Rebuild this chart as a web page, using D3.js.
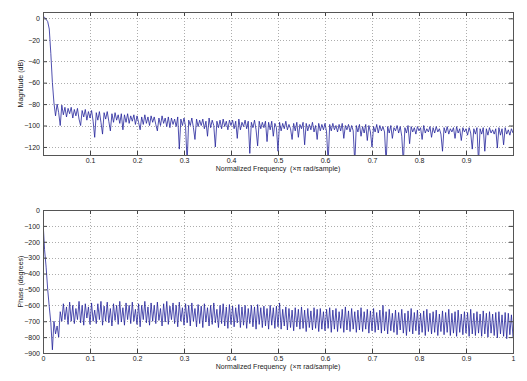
<!DOCTYPE html>
<html>
<head>
<meta charset="utf-8">
<script src="https://cdn.jsdelivr.net/npm/d3@7"></script>
<style>
body { margin: 0; background: #fff; }
svg text { font-family: "Liberation Sans", Arial, sans-serif; font-size: 7px; fill: #222; white-space: pre; }
.grid line { stroke: #8a8a8a; stroke-width: 0.7; stroke-dasharray: 1,2; }
.box { fill: none; stroke: #555; stroke-width: 1; }
.tick line { stroke: #444; }
.trace { fill: none; stroke: #23239a; stroke-width: 0.8; }
</style>
</head>
<body>
<div id="chart"></div>
<script>
// magnitude response in dB, sampled evenly on [0, 1] (x pi rad/sample)
var magnitude = [
  2, 1, -1, -3, -10, -33, -60, -79, -91, -80,
  -88, -100, -81, -90, -83, -92, -84, -89, -83, -93,
  -85, -91, -84, -94, -100, -86, -92, -85, -95, -87,
  -93, -86, -96, -111, -88, -95, -87, -97, -108, -88,
  -94, -87, -96, -105, -89, -97, -88, -95, -90, -98,
  -89, -104, -90, -97, -89, -98, -91, -96, -90, -99,
  -91, -97, -104, -92, -99, -90, -98, -92, -100, -91,
  -97, -92, -99, -105, -93, -100, -91, -98, -93, -101,
  -92, -102, -93, -99, -94, -101, -92, -122, -94, -100,
  -93, -101, -135, -95, -100, -93, -102, -113, -94, -101,
  -95, -100, -94, -103, -96, -110, -93, -102, -95, -100,
  -120, -96, -102, -95, -103, -94, -101, -96, -104, -95,
  -100, -95, -103, -96, -112, -94, -104, -97, -101, -95,
  -103, -96, -126, -97, -102, -95, -104, -119, -96, -103,
  -97, -102, -96, -115, -97, -104, -96, -110, -98, -102,
  -124, -97, -105, -98, -103, -96, -104, -99, -103, -113,
  -98, -105, -97, -111, -99, -103, -97, -118, -98, -105,
  -99, -104, -97, -106, -100, -113, -98, -105, -99, -104,
  -98, -106, -135, -99, -105, -98, -104, -100, -106, -99,
  -105, -98, -112, -100, -104, -99, -106, -100, -105, -135,
  -100, -106, -99, -110, -101, -107, -99, -114, -100, -106,
  -120, -101, -106, -99, -107, -100, -105, -101, -106, -135,
  -101, -107, -100, -112, -102, -105, -100, -107, -101, -110,
  -135, -102, -107, -100, -117, -101, -106, -102, -108, -101,
  -105, -102, -113, -100, -107, -103, -106, -101, -111, -102,
  -107, -101, -106, -103, -108, -124, -102, -107, -101, -108,
  -103, -106, -102, -112, -101, -107, -103, -114, -102, -106,
  -103, -109, -102, -107, -122, -103, -108, -102, -135, -103,
  -108, -102, -124, -103, -109, -102, -107, -104, -108, -103,
  -121, -102, -109, -103, -118, -102, -108, -104, -109, -103,
  -107
];

// phase response in degrees, same frequency grid
var phase = [
  -70, -250, -360, -500, -610, -710, -880, -700, -780, -730,
  -800, -640, -700, -590, -690, -610, -720, -580, -700, -600,
  -715, -620, -690, -575, -710, -600, -725, -590, -680, -610,
  -720, -585, -700, -630, -715, -590, -690, -575, -725, -605,
  -700, -580, -710, -620, -730, -590, -695, -600, -720, -575,
  -705, -615, -725, -585, -690, -600, -715, -580, -700, -625,
  -720, -590, -735, -600, -690, -575, -710, -610, -725, -585,
  -700, -600, -715, -580, -695, -620, -730, -590, -705, -575,
  -720, -605, -690, -585, -715, -600, -735, -580, -700, -615,
  -725, -590, -710, -600, -730, -585, -700, -620, -735, -595,
  -715, -605, -740, -590, -705, -615, -730, -600, -720, -585,
  -710, -625, -740, -600, -715, -590, -730, -610, -745, -595,
  -720, -605, -735, -615, -710, -595, -740, -610, -725, -600,
  -745, -620, -715, -600, -735, -610, -750, -595, -720, -615,
  -740, -605, -730, -620, -750, -600, -725, -615, -745, -605,
  -735, -585, -750, -625, -730, -610, -755, -620, -740, -630,
  -760, -615, -735, -625, -750, -610, -745, -630, -765, -620,
  -740, -635, -755, -615, -745, -625, -765, -620, -750, -640,
  -760, -625, -745, -615, -770, -630, -750, -620, -765, -640,
  -745, -625, -770, -610, -755, -635, -765, -620, -750, -640,
  -770, -630, -755, -615, -765, -640, -750, -625, -775, -635,
  -760, -620, -770, -645, -755, -630, -775, -600, -760, -640,
  -780, -625, -760, -650, -770, -630, -785, -645, -755, -625,
  -775, -650, -790, -635, -765, -620, -780, -645, -760, -630,
  -785, -650, -770, -635, -790, -625, -765, -650, -780, -640,
  -770, -630, -790, -655, -765, -635, -785, -645, -770, -625,
  -790, -650, -775, -640, -795, -630, -770, -655, -785, -640,
  -775, -645, -795, -625, -780, -650, -790, -640, -775, -655,
  -795, -635, -780, -650, -800, -640, -775, -655, -790, -645,
  -805, -640, -780, -660, -795, -645, -810, -650, -785, -660,
  -800
];

var magTicks = [0, -20, -40, -60, -80, -100, -120];
var phaseTicks = [0, -100, -200, -300, -400, -500, -600, -700, -800, -900];
var topFreqTicks = [0.1, 0.2, 0.3, 0.4, 0.5, 0.6, 0.7, 0.8, 0.9];
var bottomFreqTicks = [0, 0.1, 0.2, 0.3, 0.4, 0.5, 0.6, 0.7, 0.8, 0.9, 1];
var freqLabel = "Normalized Frequency  (\u00d7\u03c0 rad/sample)";

var width = 527, height = 381;
var svg = d3.select("#chart").append("svg")
    .attr("width", width)
    .attr("height", height);

svg.append("rect").attr("width", width).attr("height", height).attr("fill", "#fff");

/**
 * Draws one MATLAB style axes panel with grid, box, ticks and a trace
 */
function drawPanel(cfg){
    var w = cfg.right - cfg.left, h = cfg.bottom - cfg.top;

    var x = d3.scaleLinear().domain([0, 1]).range([0, w]);
    var y = d3.scaleLinear().domain(cfg.yDomain).range([h, 0]);

    var g = svg.append("g").attr("transform", "translate(" + cfg.left + "," + cfg.top + ")");

    g.append("clipPath").attr("id", cfg.id + "-clip")
        .append("rect").attr("width", w).attr("height", h);

    //dotted grid
    var grid = g.append("g").attr("class", "grid");
    grid.selectAll(".gx")
        .data(cfg.xTicks.filter(function(d){ return d > 0 && d < 1; }))
        .enter().append("line")
        .attr("x1", function(d){ return Math.round(x(d)) + 0.5; })
        .attr("x2", function(d){ return Math.round(x(d)) + 0.5; })
        .attr("y1", 0).attr("y2", h);
    grid.selectAll(".gy")
        .data(cfg.yTicks.filter(function(d){ return y(d) > 1 && y(d) < h - 1; }))
        .enter().append("line")
        .attr("y1", function(d){ return Math.round(y(d)) + 0.5; })
        .attr("y2", function(d){ return Math.round(y(d)) + 0.5; })
        .attr("x1", 0).attr("x2", w);

    var freq = cfg.values.map(function(d, i){ return i / (cfg.values.length - 1); });

    var line = d3.line()
        .x(function(d, i){ return x(freq[i]); })
        .y(function(d){ return y(d); });

    g.append("path")
        .datum(cfg.values)
        .attr("class", "trace")
        .attr("clip-path", "url(#" + cfg.id + "-clip)")
        .attr("d", line);

    //axes with inward ticks on all four sides
    g.append("g").attr("transform", "translate(0," + h + ")")
        .call(d3.axisBottom(x).tickValues(cfg.xTicks).tickSize(-4).tickPadding(3)
            .tickFormat(function(d){ return d3.format("")(d); }));
    g.append("g")
        .call(d3.axisTop(x).tickValues(cfg.xTicks).tickSize(-4).tickFormat(""));
    g.append("g")
        .call(d3.axisLeft(y).tickValues(cfg.yTicks).tickSize(-4).tickPadding(3));
    g.append("g").attr("transform", "translate(" + w + ",0)")
        .call(d3.axisRight(y).tickValues(cfg.yTicks).tickSize(-4).tickFormat(""));

    g.selectAll(".domain").remove();
    g.selectAll(".tick text").attr("font-size", null).attr("font-family", null);

    g.append("rect").attr("class", "box")
        .attr("x", 0.5).attr("y", 0.5)
        .attr("width", w).attr("height", h);

    g.append("text")
        .attr("x", w / 2)
        .attr("y", h + 16)
        .attr("text-anchor", "middle")
        .text(freqLabel);

    g.append("text")
        .attr("transform", "translate(" + (23 - cfg.left) + "," + (h / 2) + ") rotate(-90)")
        .attr("text-anchor", "middle")
        .text(cfg.yLabel);
}

drawPanel({
    id: "mag",
    left: 43, right: 513, top: 12, bottom: 155,
    yDomain: [-127.5, 5.9],
    yTicks: magTicks,
    xTicks: topFreqTicks,
    values: magnitude,
    yLabel: "Magnitude (dB)"
});

drawPanel({
    id: "phase",
    left: 43, right: 513, top: 210, bottom: 353,
    yDomain: [-900, 0],
    yTicks: phaseTicks,
    xTicks: bottomFreqTicks,
    values: phase,
    yLabel: "Phase (degrees)"
});
</script>
</body>
</html>
